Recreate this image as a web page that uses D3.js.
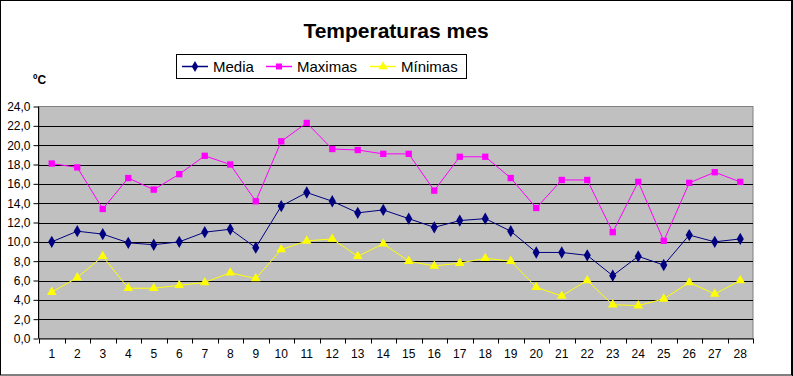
<!DOCTYPE html>
<html><head><meta charset="utf-8">
<script src="https://cdn.jsdelivr.net/npm/d3@7/dist/d3.min.js"></script>
<style>html,body{margin:0;padding:0;background:#fff;}svg{display:block;font-family:Arial,"Liberation Sans",sans-serif;}</style>
</head><body>
<script>
const days = d3.range(1, 29).map(String);
const media = [10.0,11.1,10.8,9.9,9.7,10.0,11.0,11.3,9.4,13.7,15.1,14.2,13.0,13.3,12.4,11.5,12.2,12.4,11.1,8.9,8.9,8.6,6.5,8.5,7.6,10.7,10.0,10.3];
const maximas = [18.1,17.7,13.4,16.6,15.4,17.0,18.9,18.0,14.2,20.4,22.3,19.6,19.5,19.1,19.1,15.3,18.8,18.8,16.6,13.5,16.4,16.4,11.0,16.2,10.1,16.1,17.2,16.2];
const minimas = [4.8,6.3,8.5,5.2,5.2,5.5,5.8,6.8,6.2,9.2,10.1,10.3,8.5,9.8,8.0,7.5,7.8,8.3,8.0,5.3,4.4,6.0,3.5,3.4,4.1,5.8,4.6,6.0];
const yTicks = d3.range(0, 25, 2);
const seriesNames = ["Media","Maximas","Mínimas"];
const title = "Temperaturas mes";
const unit = "ºC";

const W = 793, H = 376;
const svg = d3.select("body").append("svg").attr("width", W).attr("height", H);
svg.append("rect").attr("x",0).attr("y",0).attr("width",W).attr("height",H).attr("fill","#fff");

const plot = {l: 39, r: 753, t: 106.5, b: 338.5};
const x = d3.scaleBand().domain(days).range([plot.l, plot.r]);
const y = d3.scaleLinear().domain([0, 24]).range([plot.b, plot.t]);

svg.append("rect").attr("x", plot.l).attr("y", plot.t).attr("width", plot.r - plot.l).attr("height", plot.b - plot.t)
  .attr("fill", "#c0c0c0").attr("stroke", "#808080").attr("stroke-width", 1);

// gridlines
svg.append("g").selectAll("line").data(yTicks.filter(d => d > 0 && d < 24)).join("line")
  .attr("x1", plot.l).attr("x2", plot.r)
  .attr("y1", d => Math.round(y(d)) + 0.5).attr("y2", d => Math.round(y(d)) + 0.5)
  .attr("stroke", "#000").attr("stroke-width", 1);

// y axis
const yAxis = d3.axisLeft(y).tickValues(yTicks).tickSize(5).tickPadding(3)
  .tickFormat(d => d3.format(".1f")(d).replace(".", ","));
const gy = svg.append("g").attr("transform", `translate(${plot.l - 0.5},0)`).call(yAxis);
gy.selectAll("text").attr("font-size", 12).attr("font-family", "Arial, 'Liberation Sans', sans-serif").attr("fill", "#000");
gy.selectAll("line,path").attr("stroke", "#000");
gy.select(".domain").attr("d", `M0,${plot.t}V${plot.b}`);

// x axis with ticks at category boundaries
const gx = svg.append("g").attr("transform", `translate(0,${plot.b})`);
gx.append("line").attr("x1", plot.l).attr("x2", plot.r).attr("y1", 0.5).attr("y2", 0.5).attr("stroke", "#000");
const bounds = days.map(d => x(d)).concat([x(days[days.length - 1]) + x.bandwidth()]);
gx.selectAll("line.tk").data(bounds).join("line").attr("class", "tk")
  .attr("x1", d => Math.round(d) + 0.5).attr("x2", d => Math.round(d) + 0.5)
  .attr("y1", 0).attr("y2", 5).attr("stroke", "#000");
gx.selectAll("text").data(days).join("text")
  .attr("x", d => x(d) + x.bandwidth() / 2).attr("y", 19)
  .attr("text-anchor", "middle").attr("font-size", 12).attr("fill", "#000").text(d => d);

const cx = d => x(d) + x.bandwidth() / 2;
const line = d3.line().x((v, i) => cx(days[i])).y(v => y(v));

const series = [
  {name: seriesNames[0], values: media, color: "#000080", sym: d3.symbolDiamond, size: 44},
  {name: seriesNames[1], values: maximas, color: "#ff00ff", sym: d3.symbolSquare, size: 40},
  {name: seriesNames[2], values: minimas, color: "#ffff00", sym: d3.symbolTriangle, size: 40}
];

series.forEach(s => {
  svg.append("path").datum(s.values).attr("d", line).attr("fill", "none").attr("stroke", s.color).attr("stroke-width", 1);
  svg.append("g").selectAll("path").data(s.values).join("path")
    .attr("transform", (v, i) => `translate(${cx(days[i])},${y(v)})`)
    .attr("d", d3.symbol().type(s.sym).size(s.size)).attr("fill", s.color);
});

// title
svg.append("text").attr("x", 396).attr("y", 38).attr("text-anchor", "middle")
  .attr("font-size", 21).attr("font-weight", "bold").attr("fill", "#000").text(title);

// unit
svg.append("text").attr("x", 33).attr("y", 84).attr("font-size", 12).attr("font-weight", "bold").attr("fill", "#000").text(unit);

// legend
const lg = svg.append("g");
lg.append("rect").attr("x", 176.5).attr("y", 54.5).attr("width", 290).attr("height", 24).attr("fill", "#fff").attr("stroke", "#000");
const legX = [182, 266, 370];
series.forEach((s, i) => {
  const lx = legX[i];
  lg.append("line").attr("x1", lx).attr("x2", lx + 26).attr("y1", 66.5).attr("y2", 66.5).attr("stroke", s.color).attr("stroke-width", 1.5);
  lg.append("path").attr("transform", `translate(${lx + 13},66.5)`).attr("d", d3.symbol().type(s.sym).size(36)).attr("fill", s.color);
  lg.append("text").attr("x", lx + 31).attr("y", 71.5).attr("font-size", 15).attr("fill", "#000").text(s.name);
});

// outer border
svg.append("rect").attr("x", 0.5).attr("y", 0.5).attr("width", 791).attr("height", 374.5).attr("fill", "none").attr("stroke", "#000");
svg.append("line").attr("x1", 792.5).attr("x2", 792.5).attr("y1", 0).attr("y2", H).attr("stroke", "#000");
</script>
</body></html>
